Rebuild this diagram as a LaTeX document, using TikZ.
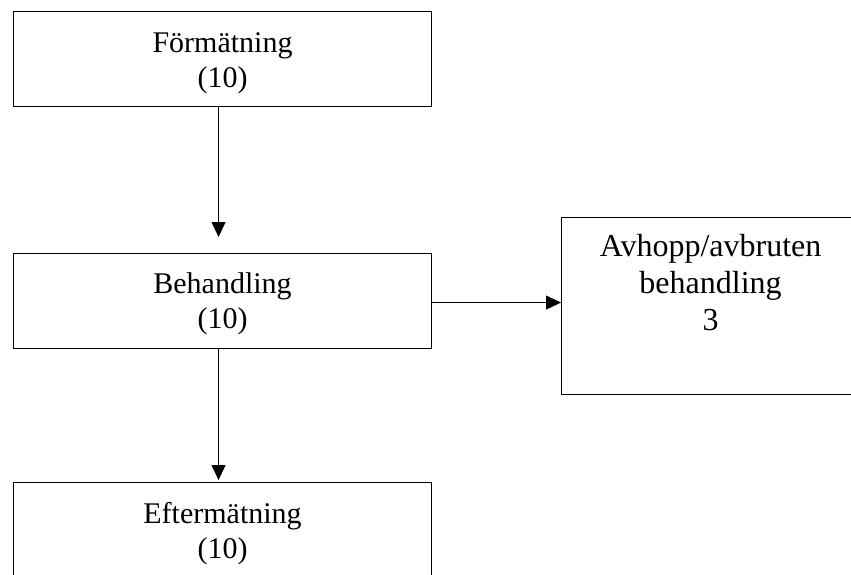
\documentclass[tikz,border=0pt]{standalone}
\usepackage{fontspec}
\setmainfont{Liberation Serif}
\usetikzlibrary{arrows.meta}
\newcommand{\boxtext}[5]{\parbox[c][#2][t]{#1}{\centering\fontsize{#3}{#4}\selectfont #5}}
\begin{document}
\begin{tikzpicture}[x=1pt,y=1pt,
  box/.style={draw=black, line width=1.1pt, inner sep=0pt, anchor=north west},
  arr/.style={draw=black, line width=1pt, -{Triangle[length=15pt,width=14pt]}}]
\useasboundingbox (0,0) rectangle (851,574);
\clip (0,0) rectangle (851,574);
\fill[white] (0,0) rectangle (851,574);
\node[box] (f) at (13,563) {\boxtext{418pt}{95pt}{30}{34.5}{\rule{0pt}{41pt}Förmätning\\(10)}};
\node[box] (b) at (13,321) {\boxtext{418pt}{95pt}{30}{34.5}{\rule{0pt}{40pt}Behandling\\(10)}};
\node[box] (a) at (561,357) {\boxtext{298pt}{177pt}{32}{36.8}{\rule{0pt}{39pt}Avhopp/avbruten\\behandling\\3}};
\node[box] (e) at (13,92) {\boxtext{418pt}{112pt}{30}{34.5}{\rule{0pt}{41pt}Eftermätning\\(10)}};
\draw[arr, shorten >=16pt] ([xshift=-4pt]f.south) -- ([xshift=-4pt]b.north);
\draw[arr, shorten >=2pt] ([xshift=-4pt]b.south) -- ([xshift=-4pt]e.north);
\draw[arr] ([yshift=-1.5pt]b.east) -- ([yshift=-1.5pt]b.east -| a.west);
\end{tikzpicture}
\end{document}
